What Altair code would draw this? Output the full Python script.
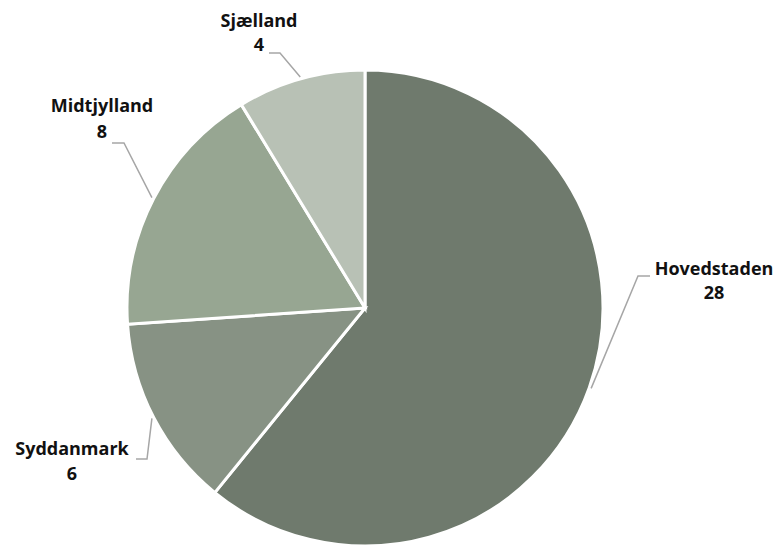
import math
import altair as alt
import pandas as pd

# ---- data ----
regions = ["Hovedstaden", "Syddanmark", "Midtjylland", "Sjælland"]
counts = [28, 6, 8, 4]
colors = ["#6f7a6d", "#879284", "#97a692", "#b8c1b5"]

# ---- layout (pixels, chart coordinates) ----
CX, CY, R = 357, 300, 238
label_x = [706, 64, 94, 251]
name_y = [267, 447, 104, 19]
value_y = [291, 472, 130, 43]
elbow_x = [630, 139, 116, 272]
elbow_y = [268, 451, 135, 45]
end_x = [642, 128, 104, 261]
end_y = [268, 451, 135, 45]

df = pd.DataFrame({"region": regions, "count": counts, "idx": list(range(len(regions)))})

# leader lines: anchor from slice mid-angle
total = sum(counts)
rows = []
cum = 0
for i, (r, c) in enumerate(zip(regions, counts)):
    mid = (cum + c / 2) / total * 2 * math.pi
    cum += c
    ax = CX + (R + 2) * math.sin(mid)
    ay = CY - (R + 2) * math.cos(mid)
    rows.append({"region": r, "seq": 0, "px": ax, "py": ay})
    rows.append({"region": r, "seq": 1, "px": elbow_x[i], "py": elbow_y[i]})
    rows.append({"region": r, "seq": 2, "px": end_x[i], "py": end_y[i]})
lines_df = pd.DataFrame(rows)

labels_df = pd.DataFrame({
    "region": regions,
    "value": [str(c) for c in counts],
    "lx": label_x,
    "ny": name_y,
    "vy": value_y,
})

pie = alt.Chart(df).mark_arc(outerRadius=R, stroke="white", strokeWidth=3).encode(
    theta=alt.Theta("count:Q", stack=True),
    order=alt.Order("idx:Q"),
    color=alt.Color("region:N", scale=alt.Scale(domain=regions, range=colors), legend=None),
    x=alt.value(CX),
    y=alt.value(CY),
)

leaders = alt.Chart(lines_df).mark_line(color="#a6a6a6", strokeWidth=1.5).encode(
    x=alt.X("px:Q", scale=None, axis=None),
    y=alt.Y("py:Q", scale=None, axis=None),
    detail="region:N",
    order="seq:Q",
)

txt_style = dict(font="Open Sans", fontSize=18, fontWeight="bold", color="#111111",
                 align="center", baseline="alphabetic")

names = alt.Chart(labels_df).mark_text(**txt_style).encode(
    x=alt.X("lx:Q", scale=None, axis=None),
    y=alt.Y("ny:Q", scale=None, axis=None),
    text="region:N",
)
values = alt.Chart(labels_df).mark_text(**txt_style).encode(
    x=alt.X("lx:Q", scale=None, axis=None),
    y=alt.Y("vy:Q", scale=None, axis=None),
    text="value:N",
)

chart = alt.layer(pie, leaders, names, values).properties(
    width=766, height=539, autosize=alt.AutoSizeParams(type="none"), padding=0
).configure_view(stroke=None)

chart.save("out.html", embed_options={"renderer": "svg", "actions": False})
